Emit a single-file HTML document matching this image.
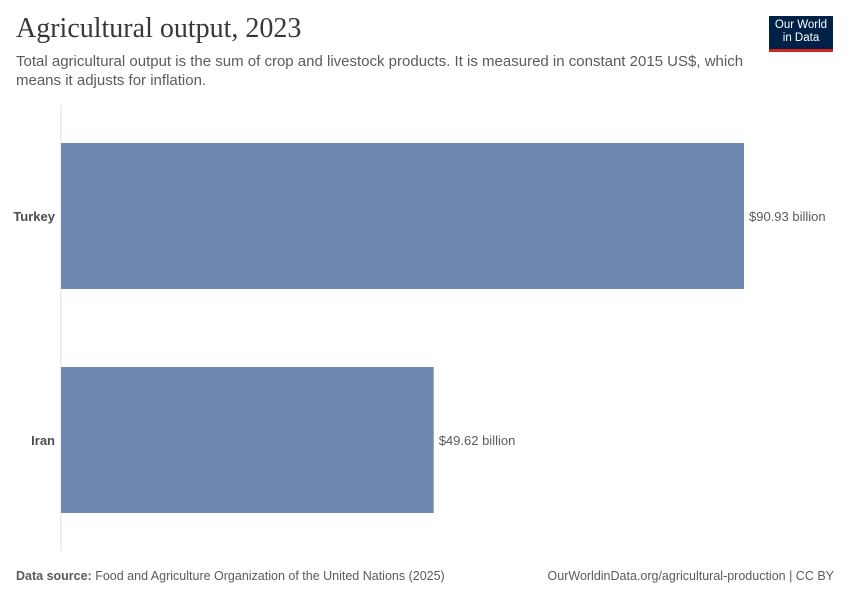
<!DOCTYPE html>
<html><head><meta charset="utf-8"><style>
body{margin:0;background:#fff;font-family:"Liberation Sans",sans-serif;}
#c{position:relative;width:850px;height:600px;overflow:hidden;}
.title{position:absolute;left:16px;top:13px;font-family:"Liberation Serif",serif;font-size:28px;color:#383838;}
.sub{position:absolute;left:16px;top:52px;font-size:15px;color:#5b5b5b;line-height:19px;width:760px;}
.logo{position:absolute;left:769px;top:16px;width:64px;height:36px;background:#002147;color:#fff;font-size:11.5px;line-height:13px;text-align:center;padding-top:3px;box-sizing:border-box;border-bottom:3px solid #ce261e;}
.foot{position:absolute;top:569px;font-size:12.5px;color:#5b5b5b;}
</style></head><body><div id="c">
<div class="title">Agricultural output, 2023</div>
<div class="sub">Total agricultural output is the sum of crop and livestock products. It is measured in constant 2015 US$, which means it adjusts for inflation.</div>
<div class="logo">Our World<br>in Data</div>
<svg id="s" width="850" height="600" style="position:absolute;left:0;top:0"></svg>
<div class="foot" style="left:16px"><b>Data source:</b> Food and Agriculture Organization of the United Nations (2025)</div>
<div class="foot" style="right:16px">OurWorldinData.org/agricultural-production | CC BY</div>
</div>
<script>
const categories=["Turkey","Iran"];
const values=[90.93,49.62];
const valueLabels=["$90.93 billion","$49.62 billion"];
const NS="http://www.w3.org/2000/svg",s=document.getElementById('s');
const x0=61,xs=v=>x0+v*(683/90.93);
const yTop=i=>143+i*224,bh=146;
function mk(t,a){const e=document.createElementNS(NS,t);for(const k in a)e.setAttribute(k,a[k]);s.appendChild(e);return e;}
const ax=mk('line',{x1:x0,x2:x0,y1:105,y2:551,stroke:'#ddd','stroke-width':1});


categories.forEach((c,i)=>{
 const r=mk('rect',{x:x0,y:yTop(i),width:xs(values[i])-x0,height:bh,fill:'#6f88b0'});
 
 
 const l=mk('text',{x:55,y:yTop(i)+bh/2+5,'text-anchor':'end','font-size':13,'font-weight':'bold',fill:'#4d4d4d','font-family':'Liberation Sans'});
 l.textContent=c;
 
 
 const v=mk('text',{x:xs(values[i])+5,y:yTop(i)+bh/2+5,'font-size':13,fill:'#5b5b5b','font-family':'Liberation Sans'});
 v.textContent=valueLabels[i];
 
 
});
</script></body></html>
